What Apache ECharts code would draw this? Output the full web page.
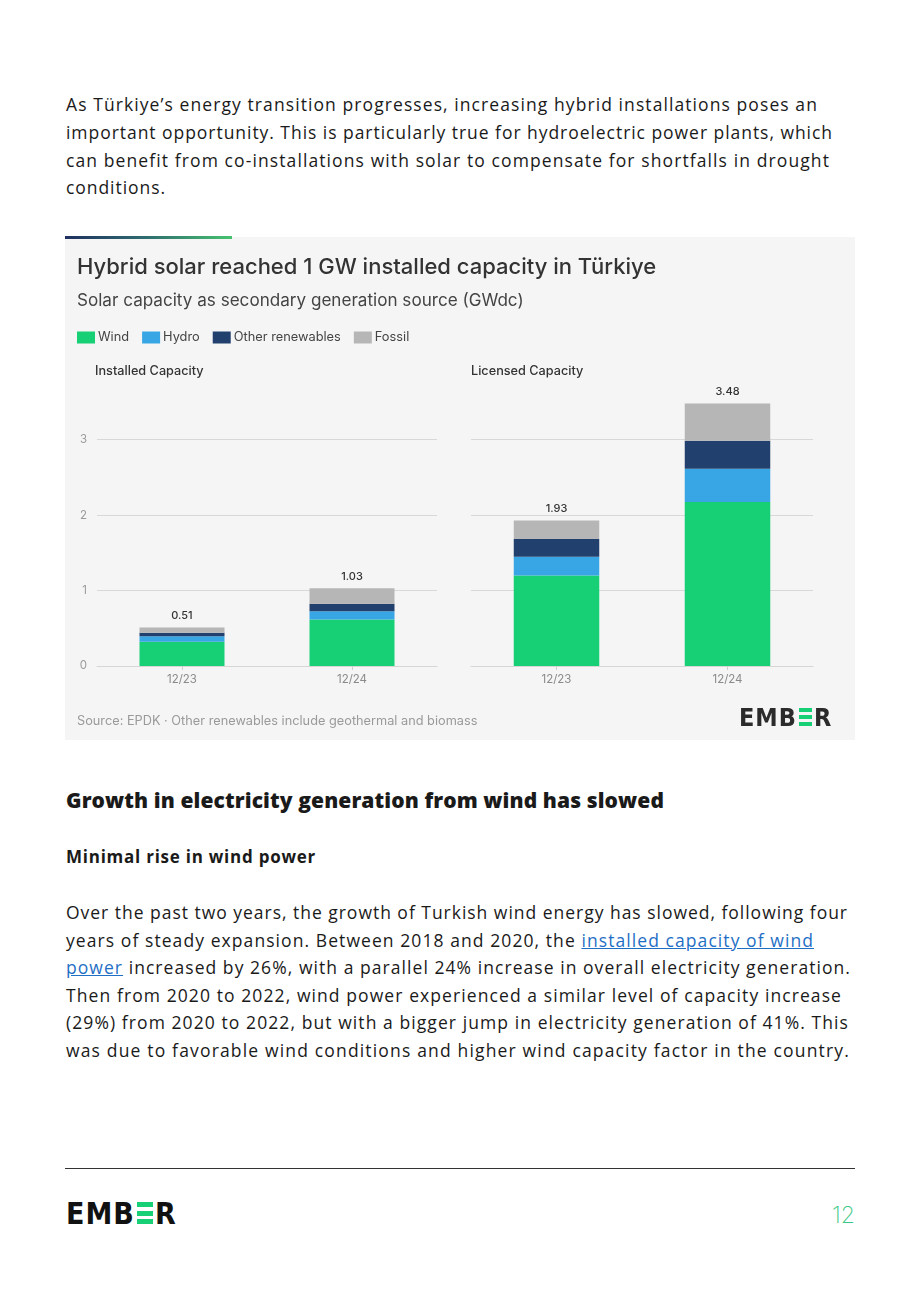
<!DOCTYPE html>
<html>
<head>
<meta charset="utf-8">
<script src="https://cdn.jsdelivr.net/npm/echarts@6/dist/echarts.min.js"></script>
<style>
  html, body { margin:0; padding:0; background:#fff; }
  body { width:920px; height:1302px; position:relative; overflow:hidden; font-family:"Open Sans", sans-serif; color:#1a1a1a; }
  .ln { position:absolute; left:66px; white-space:nowrap; font-size:17.5px; line-height:20px; }
  .ln a { color:#1f6fc5; text-decoration:underline; }
  .h2 { position:absolute; left:66px; white-space:nowrap; font-size:21px; font-weight:800; line-height:24px; }
  .h3 { position:absolute; left:66px; white-space:nowrap; font-size:17px; font-weight:700; line-height:20px; }
  #card { position:absolute; left:65px; top:237px; width:790px; height:503px; background:#f5f5f5; }
  #accent { position:absolute; left:65px; top:236px; width:167px; height:3px; background:linear-gradient(90deg,#1f3060,#2f6f70 50%,#46c26f); }
  #chart { position:absolute; left:0; top:0; width:790px; height:503px; }
  .logo { position:absolute; font-family:"Liberation Sans Narrow","DejaVu Sans Condensed",sans-serif; font-weight:700; white-space:nowrap; letter-spacing:1px; }
  .ge { display:inline-block; position:relative; vertical-align:baseline; }
  .ge i { position:absolute; left:0; right:0; background:#17cf75; }
  #rule { position:absolute; left:65px; top:1168px; width:790px; height:1px; background:#333; }
  #pnum { position:absolute; left:832px; top:1201px; font-family:Inter, sans-serif; font-weight:200; font-size:23px; color:#3cc987; line-height:28px; }
</style>
</head>
<body>
<div class="ln" data-w="752" style="top:94px">As Türkiye’s energy transition progresses, increasing hybrid installations poses an</div>
<div class="ln" data-w="767" style="top:122px">important opportunity. This is particularly true for hydroelectric power plants, which</div>
<div class="ln" data-w="764" style="top:150px">can benefit from co-installations with solar to compensate for shortfalls in drought</div>
<div class="ln" data-w="100" style="top:177px">conditions.</div>

<div id="card"><div id="chart"></div>
  <div class="logo" style="left:674px;top:466px;font-size:25px;color:#2b2b2b;">EMB<span class="ge" style="width:13px;height:18px;margin:0 2px;"><i style="top:0;height:4px"></i><i style="top:7px;height:4px"></i><i style="top:14px;height:4px"></i></span>R</div>
</div>
<div id="accent"></div>

<div class="h2" data-w="598" style="top:788px">Growth in electricity generation from wind has slowed</div>
<div class="h3" data-w="250" style="top:847px">Minimal rise in wind power</div>

<div class="ln" data-w="782" style="top:902px">Over the past two years, the growth of Turkish wind energy has slowed, following four</div>
<div class="ln" data-w="748" style="top:930px">years of steady expansion. Between 2018 and 2020, the <a>installed capacity of wind</a></div>
<div class="ln" data-w="785" style="top:957px"><a>power</a> increased by 26%, with a parallel 24% increase in overall electricity generation.</div>
<div class="ln" data-w="776" style="top:985px">Then from 2020 to 2022, wind power experienced a similar level of capacity increase</div>
<div class="ln" data-w="783" style="top:1012px">(29%) from 2020 to 2022, but with a bigger jump in electricity generation of 41%. This</div>
<div class="ln" data-w="784" style="top:1040px">was due to favorable wind conditions and higher wind capacity factor in the country.</div>

<div id="rule"></div>
<div class="logo" style="left:66px;top:1196px;font-size:30px;color:#111;">EMB<span class="ge" style="width:16px;height:22px;margin:0 2px;"><i style="top:0;height:5px"></i><i style="top:8.5px;height:5px"></i><i style="top:17px;height:5px"></i></span>R</div>
<div id="pnum">12</div>

<script>
// ---- data ----
const categories = ['12/23', '12/24'];
const seriesNames = ['Wind', 'Hydro', 'Other renewables', 'Fossil'];
const colors = ['#17cf75', '#38a5e4', '#21406e', '#b6b6b6'];
// Installed capacity (GWdc)
const installedWind   = [0.32, 0.615];
const installedHydro  = [0.075, 0.11];
const installedOther  = [0.045, 0.10];
const installedFossil = [0.07, 0.205];
const installedTotal  = [0.51, 1.03];
// Licensed capacity (GWdc)
const licensedWind   = [1.20, 2.175];
const licensedHydro  = [0.25, 0.44];
const licensedOther  = [0.235, 0.37];
const licensedFossil = [0.245, 0.495];
const licensedTotal  = [1.93, 3.48];
const yTicks = [0, 1, 2, 3];

// fit body-text line widths to the reference (layout only)
document.querySelectorAll('[data-w]').forEach(el => {
  const target = +el.dataset.w;
  const nat = el.getBoundingClientRect().width;
  const n = el.textContent.length;
  if (n > 1) el.style.letterSpacing = ((target - nat) / n) + 'px';
});

const chart = echarts.init(document.getElementById('chart'), null, {renderer:'canvas'});
const installed = [installedWind, installedHydro, installedOther, installedFossil];
const licensed = [licensedWind, licensedHydro, licensedOther, licensedFossil];

function mkSeries(sets, totals, idx, stack) {
  return sets.map((arr, i) => ({
    name: seriesNames[i], type: 'bar', stack: stack,
    xAxisIndex: idx, yAxisIndex: idx, barWidth: '50%',
    itemStyle: { color: colors[i] },
    data: arr,
    label: i === sets.length - 1 ? {
      show: true, position: 'top', distance: 6,
      formatter: p => totals[p.dataIndex].toFixed(2),
      color: '#333', fontSize: 11, fontFamily: 'Inter', fontWeight: 500
    } : { show: false },
    emphasis: { disabled: true }
  }));
}

const xAxisBase = {
  type: 'category', data: categories,
  axisLine: { lineStyle: { color: '#d6d6d6' } },
  axisTick: { show: true, alignWithLabel: true, length: 4, lineStyle: { color: '#cfcfcf' } },
  axisLabel: { color: '#8a8a8a', fontSize: 11.5, fontFamily: 'Inter', margin: 8 }
};
const yAxisBase = {
  type: 'value', min: 0, max: 3.5, interval: 1,
  axisLine: { show: false }, axisTick: { show: false },
  splitLine: { show: true, showMaxLine: false, lineStyle: { color: '#d8d8d8' } }
};

chart.setOption({
  animation: false,
  textStyle: { fontFamily: 'Inter' },
  title: [
    { text: 'Hybrid solar reached 1 GW installed capacity in Türkiye', left: 12, top: 19, padding: 0,
      textStyle: { fontSize: 22, fontWeight: 500, color: '#333', fontFamily: 'Inter' } },
    { text: 'Solar capacity as secondary generation source (GWdc)', left: 12, top: 55, padding: 0,
      textStyle: { fontSize: 17.1, fontWeight: 400, color: '#444', fontFamily: 'Inter' } },
    { text: 'Installed Capacity', left: 30, top: 128, padding: 0,
      textStyle: { fontSize: 12.7, fontWeight: 500, color: '#333', fontFamily: 'Inter' } },
    { text: 'Licensed Capacity', left: 406, top: 128, padding: 0,
      textStyle: { fontSize: 12.7, fontWeight: 500, color: '#333', fontFamily: 'Inter' } }
  ],
  legend: {
    data: seriesNames, left: 12, top: 94, padding: 0, itemWidth: 18, itemHeight: 12, itemGap: 13,
    icon: 'rect', selectedMode: false,
    textStyle: { color: '#444', fontSize: 12.8, fontFamily: 'Inter', padding: [0,0,0,-2] }
  },
  grid: [
    { left: 32, width: 340, top: 165, height: 264, containLabel: false },
    { left: 406, width: 342, top: 165, height: 264, containLabel: false }
  ],
  xAxis: [ Object.assign({ gridIndex: 0 }, xAxisBase), Object.assign({ gridIndex: 1 }, xAxisBase) ],
  yAxis: [
    Object.assign({ gridIndex: 0, axisLabel: { show: true, showMaxLabel: false, color: '#9a9a9a', fontSize: 11.5, margin: 10,
      formatter: v => yTicks.includes(v) ? String(v) : '' } }, yAxisBase),
    Object.assign({ gridIndex: 1, axisLabel: { show: false } }, yAxisBase)
  ],
  graphic: [
    { type: 'text', left: 12, top: 478, style: { text: 'Source: EPDK · Other renewables include geothermal and biomass',
      fill: '#9a9a9a', fontSize: 12.75, fontFamily: 'Inter' } }
  ],
  series: mkSeries(installed, installedTotal, 0, 'inst').concat(mkSeries(licensed, licensedTotal, 1, 'lic'))
});
</script>
</body>
</html>
